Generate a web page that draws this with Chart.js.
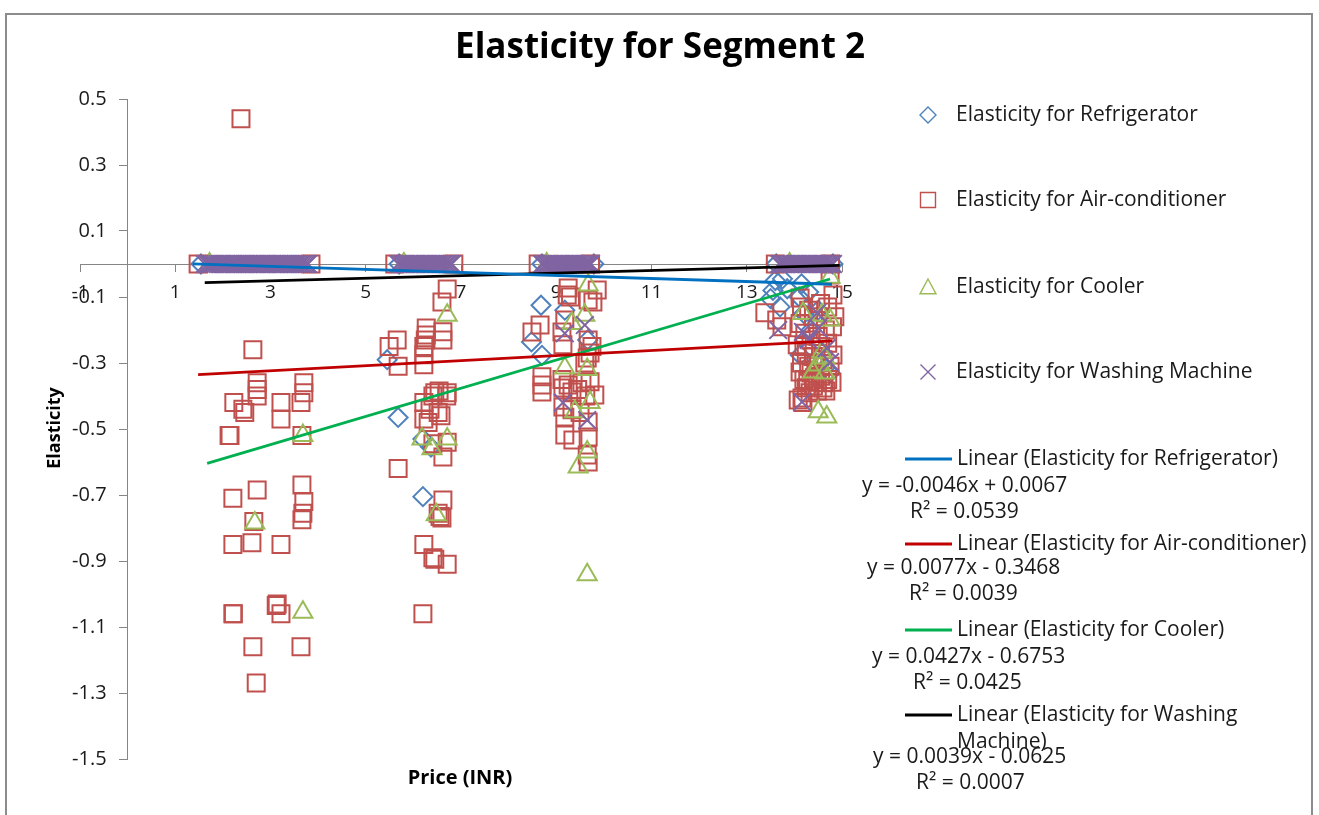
<!DOCTYPE html>
<html>
<head>
<meta charset="utf-8">
<title>Elasticity for Segment 2</title>
<script src="https://cdn.jsdelivr.net/npm/chart.js@4.4.1/dist/chart.umd.min.js"></script>
<style>
  html, body { margin: 0; padding: 0; background: #ffffff; }
  #wrap { position: relative; width: 1319px; height: 815px; }
</style>
</head>
<body>
<div id="wrap"><canvas id="chart"></canvas></div>
<script>
// ---- series names ----
const seriesNames = [
  'Elasticity for Refrigerator',
  'Elasticity for Air-conditioner',
  'Elasticity for Cooler',
  'Elasticity for Washing Machine'
];

// ---- observations [price, elasticity] with non-zero elasticity ----
const fridgePoints = [
  [5.45, -0.29], [5.68, -0.465], [6.20, -0.53], [6.37, -0.555], [6.20, -0.705],
  [8.68, -0.125], [9.18, -0.14], [8.48, -0.236], [8.70, -0.277], [9.66, -0.23],
  [13.60, -0.05], [13.75, -0.045], [13.55, -0.08], [13.85, -0.075], [13.50, -0.105],
  [13.70, -0.13], [14.15, -0.06], [14.30, -0.085], [14.10, -0.10], [14.20, -0.15],
  [14.35, -0.20], [14.12, -0.276], [14.45, -0.30], [14.64, -0.315], [14.75, -0.33],
  [14.50, -0.14]
];

const acPoints = [
  [2.38, 0.44], [2.63, -0.26], [2.72, -0.36], [2.72, -0.38], [2.72, -0.40],
  [2.23, -0.42], [2.42, -0.44], [2.46, -0.45], [2.13, -0.52], [2.15, -0.52],
  [3.22, -0.42], [3.22, -0.47], [3.70, -0.36], [3.70, -0.39], [3.64, -0.42],
  [3.66, -0.52], [2.21, -0.71], [2.72, -0.685], [3.66, -0.67], [3.70, -0.72],
  [3.68, -0.755], [3.66, -0.775], [2.65, -0.78], [2.21, -0.85], [2.61, -0.845],
  [3.22, -0.85], [2.21, -1.06], [2.22, -1.06], [3.12, -1.035], [3.14, -1.03],
  [3.22, -1.06], [2.63, -1.16], [3.64, -1.16], [2.70, -1.27],

  [6.71, -0.076], [6.60, -0.115], [6.27, -0.194], [6.27, -0.215], [6.25, -0.23],
  [6.22, -0.25], [6.22, -0.275], [6.22, -0.305], [6.62, -0.205], [6.62, -0.23],
  [5.66, -0.23], [5.49, -0.25], [5.68, -0.31], [6.71, -0.39], [6.54, -0.385],
  [6.41, -0.40], [6.22, -0.42], [6.35, -0.44], [6.52, -0.45], [6.22, -0.47],
  [6.58, -0.46], [6.31, -0.48], [6.45, -0.39], [6.70, -0.40], [6.41, -0.545],
  [6.71, -0.54], [6.62, -0.585], [5.68, -0.62], [6.62, -0.715], [6.52, -0.755],
  [6.60, -0.77], [6.56, -0.765], [6.22, -0.85], [6.41, -0.89], [6.45, -0.895],
  [6.71, -0.91], [6.20, -1.06],

  [9.25, -0.073], [9.23, -0.094], [9.86, -0.079], [9.67, -0.109], [9.77, -0.115],
  [9.30, -0.10], [9.18, -0.17], [8.66, -0.185], [8.49, -0.206], [9.12, -0.206],
  [9.14, -0.245], [9.67, -0.23], [9.71, -0.27], [9.60, -0.30], [9.75, -0.25],
  [9.65, -0.285], [8.70, -0.342], [8.70, -0.367], [8.70, -0.388], [9.12, -0.35],
  [9.14, -0.376], [9.25, -0.367], [9.33, -0.388], [9.54, -0.36], [9.71, -0.357],
  [9.81, -0.397], [9.45, -0.38], [9.62, -0.40], [9.14, -0.433], [9.33, -0.442],
  [9.18, -0.464], [9.67, -0.479], [9.50, -0.45], [9.18, -0.518], [9.35, -0.533],
  [9.67, -0.524], [9.65, -0.579], [9.67, -0.60],

  [13.38, -0.148], [13.63, -0.17], [13.74, -0.19], [14.12, -0.103], [14.75, -0.033],
  [14.81, -0.094], [14.85, -0.16], [14.12, -0.18], [14.22, -0.21], [14.06, -0.245],
  [14.12, -0.327], [14.48, -0.358], [14.81, -0.276], [14.79, -0.358], [14.60, -0.376],
  [14.16, -0.406], [14.08, -0.412], [14.18, -0.42], [14.15, -0.13], [14.30, -0.14],
  [14.40, -0.16], [14.55, -0.12], [14.70, -0.13], [14.20, -0.25], [14.35, -0.23],
  [14.50, -0.22], [14.65, -0.20], [14.80, -0.19], [14.25, -0.27], [14.40, -0.28],
  [14.55, -0.25], [14.70, -0.24], [14.15, -0.30], [14.30, -0.31], [14.45, -0.30],
  [14.60, -0.29], [14.75, -0.31], [14.20, -0.35], [14.35, -0.33], [14.55, -0.34],
  [14.40, -0.37], [14.25, -0.375], [14.70, -0.35], [14.28, -0.355], [14.42, -0.345],
  [14.62, -0.36], [14.48, -0.385], [14.33, -0.39], [14.66, -0.385]
];

const coolerPoints = [
  [3.68, -0.52], [2.67, -0.785], [3.68, -1.055],
  [6.71, -0.155], [6.18, -0.53], [6.39, -0.56], [6.71, -0.53], [6.48, -0.76],
  [9.67, -0.064], [9.60, -0.155], [9.33, -0.18], [9.18, -0.315], [9.65, -0.32],
  [9.39, -0.448], [9.71, -0.42], [9.65, -0.57], [9.46, -0.615], [9.65, -0.942],
  [14.75, -0.04], [14.18, -0.15], [14.58, -0.155], [14.75, -0.17], [14.58, -0.267],
  [14.64, -0.285], [14.50, -0.306], [14.39, -0.327], [14.64, -0.33], [14.50, -0.448],
  [14.68, -0.464]
];

const washerPoints = [
  [9.18, -0.21], [9.60, -0.185], [9.14, -0.42], [9.65, -0.473],
  [13.66, -0.20], [14.18, -0.206], [14.48, -0.148], [14.50, -0.194], [14.16, -0.418],
  [14.68, -0.255], [14.75, -0.297], [14.30, -0.23]
];

// ---- prices at which elasticity is zero ----
const fridgeZeroPrice = [1.54, 5.70, 8.70, 9.79, 13.62, 14.81];
const acZeroPrice = [1.48, 3.85, 5.61, 6.85, 8.62, 9.72, 13.60, 14.76];
const coolerZeroPrice = [1.72, 5.80, 8.80, 13.90];
const washerZeroPrice = [
  1.62, 1.67, 1.71, 1.76, 1.80, 1.85, 1.90, 1.94, 1.99, 2.04, 2.08, 2.13, 2.17, 2.22,
  2.27, 2.31, 2.36, 2.41, 2.45, 2.50, 2.54, 2.59, 2.64, 2.68, 2.73, 2.78, 2.82, 2.87,
  2.91, 2.96, 3.01, 3.05, 3.10, 3.15, 3.19, 3.24, 3.28, 3.33, 3.38, 3.42, 3.47, 3.52,
  3.56, 3.61, 3.65, 3.70, 3.75, 3.79,
  5.68, 5.72, 5.77, 5.81, 5.86, 5.91, 5.95, 6.00, 6.04, 6.09, 6.14, 6.18, 6.23, 6.27,
  6.32, 6.37, 6.41, 6.46, 6.50, 6.55, 6.60, 6.64, 6.69, 6.73, 6.78, 6.81,
  8.70, 8.74, 8.79, 8.83, 8.88, 8.93, 8.97, 9.02, 9.06, 9.11, 9.16, 9.20, 9.25, 9.29,
  9.34, 9.39, 9.43, 9.48, 9.52, 9.57, 9.62, 9.66, 9.70, 9.73,
  13.68, 13.72, 13.77, 13.81, 13.86, 13.91, 13.95, 14.00, 14.04, 14.09, 14.14, 14.18,
  14.23, 14.27, 14.32, 14.37, 14.41, 14.46, 14.50, 14.55, 14.60, 14.64, 14.69, 14.73,
  14.78, 14.81
];

// ---- linear trend lines (Excel fits) ----
const trendSlope = [-0.0046, 0.0077, 0.0427, 0.0039];
const trendIntercept = [0.0067, -0.3468, -0.6753, -0.0625];
const trendR2 = [0.0539, 0.0039, 0.0425, 0.0007];
const trendFrom = [1.37, 1.48, 1.67, 1.62];
const trendTo = [14.79, 14.80, 14.75, 14.95];

// ---- axis ticks ----
const xTickStep = 2;
const yTickStep = 0.2;

const markerColors = ['#4F81BD', '#C0504D', '#9BBB59', '#8064A2'];
const trendColors = ['#0070C0', '#C00000', '#00B050', '#000000'];
const markerStyles = ['rectRot', 'rect', 'triangle', 'crossRot'];
const markerRadius = [9.5, 12, 11, 12.5];

const FONT = '"Open Sans", "Noto Sans", "DejaVu Sans", sans-serif';

const pointGroups = [
  [fridgePoints, fridgeZeroPrice],
  [acPoints, acZeroPrice],
  [coolerPoints, coolerZeroPrice],
  [washerPoints, washerZeroPrice]
];

const datasets = [];
// trend lines sit above every marker
trendSlope.forEach((m, i) => {
  const b = trendIntercept[i];
  datasets.push({
    label: 'Linear (' + seriesNames[i] + ')',
    data: [
      { x: trendFrom[i], y: m * trendFrom[i] + b },
      { x: trendTo[i], y: m * trendTo[i] + b }
    ],
    showLine: true,
    borderColor: trendColors[i],
    borderWidth: 2.8,
    pointRadius: 0,
    pointHoverRadius: 0,
    fill: false,
    order: 0,
    clip: false
  });
});
// scatter series, washing machine drawn last (on top)
pointGroups.forEach(([pts, zeros], i) => {
  const data = zeros.map(p => ({ x: p, y: 0 })).concat(pts.map(p => ({ x: p[0], y: p[1] })));
  datasets.push({
    label: seriesNames[i],
    data,
    showLine: false,
    pointStyle: markerStyles[i],
    pointRadius: markerRadius[i],
    pointHoverRadius: markerRadius[i],
    pointBorderColor: markerColors[i],
    pointBackgroundColor: 'rgba(0,0,0,0)',
    pointBorderWidth: 2,
    pointHoverBorderWidth: 2,
    order: 4 - i,
    clip: false
  });
});

function fmtCoef(v) { return Math.abs(v).toFixed(4); }
function equationText(i) {
  const m = trendSlope[i], b = trendIntercept[i];
  return 'y = ' + (m < 0 ? '-' : '') + fmtCoef(m) + 'x ' + (b < 0 ? '- ' : '+ ') + fmtCoef(b);
}

function drawMarker(ctx, style, x, y, r, color) {
  ctx.save();
  ctx.strokeStyle = color;
  ctx.lineWidth = 1.4;
  ctx.beginPath();
  if (style === 'rectRot') {
    ctx.moveTo(x, y - r); ctx.lineTo(x + r, y); ctx.lineTo(x, y + r); ctx.lineTo(x - r, y); ctx.closePath();
  } else if (style === 'rect') {
    ctx.rect(x - r, y - r, 2 * r, 2 * r);
  } else if (style === 'triangle') {
    ctx.moveTo(x, y - r); ctx.lineTo(x + r, y + r * 0.85); ctx.lineTo(x - r, y + r * 0.85); ctx.closePath();
  } else {
    ctx.moveTo(x - r, y - r); ctx.lineTo(x + r, y + r);
    ctx.moveTo(x + r, y - r); ctx.lineTo(x - r, y + r);
  }
  ctx.stroke();
  ctx.restore();
}

const decorations = {
  id: 'decorations',
  afterDraw(chart) {
    const ctx = chart.ctx;
    const xs = chart.scales.x, ys = chart.scales.y;
    ctx.save();

    // outer frame
    ctx.strokeStyle = '#8c8c8c';
    ctx.lineWidth = 2;
    ctx.beginPath();
    ctx.moveTo(6, 815); ctx.lineTo(6, 14); ctx.lineTo(1312, 14); ctx.lineTo(1312, 815);
    ctx.stroke();

    // y tick labels, left of the crossing axis
    const axisX = xs.getPixelForValue(0);
    ctx.fillStyle = '#1a1a1a';
    ctx.font = '20px ' + FONT;
    ctx.textAlign = 'right';
    ctx.textBaseline = 'middle';
    ys.ticks.forEach(t => {
      ctx.fillText(t.value.toFixed(1), axisX - 21, ys.getPixelForValue(t.value));
    });

    // chart title
    ctx.fillStyle = '#000';
    ctx.textAlign = 'center';
    ctx.font = 'bold 35px ' + FONT;
    ctx.fillText('Elasticity for Segment 2', 660, 48);

    // axis titles
    ctx.font = 'bold 20px ' + FONT;
    ctx.fillText('Price (INR)', 460, 778);
    ctx.save();
    ctx.translate(55, 428);
    ctx.rotate(-Math.PI / 2);
    ctx.font = 'bold 18px ' + FONT;
    ctx.fillText('Elasticity', 0, 0);
    ctx.restore();

    // legend: marker entries
    ctx.textAlign = 'left';
    ctx.fillStyle = '#1a1a1a';
    ctx.font = '21px ' + FONT;
    const legendY = [115, 200, 287, 372];
    const legendR = [8, 7.5, 8, 7.5];
    seriesNames.forEach((name, i) => {
      drawMarker(ctx, markerStyles[i], 928, legendY[i], legendR[i], markerColors[i]);
      ctx.fillText(name, 956, legendY[i]);
    });

    // legend: trend entries with equations
    const lineY = [459, 544, 630, 715];
    const eqX = [862, 867, 872, 873];
    const eqY = [486, 568, 657, 757];
    const r2X = [910, 909, 913, 916];
    const r2Y = [512, 594, 683, 783];
    trendSlope.forEach((m, i) => {
      ctx.strokeStyle = trendColors[i];
      ctx.lineWidth = 2.8;
      ctx.beginPath();
      ctx.moveTo(905, lineY[i]); ctx.lineTo(952, lineY[i]);
      ctx.stroke();
      ctx.fillStyle = '#1a1a1a';
      const label = 'Linear (' + seriesNames[i] + ')';
      if (i === 3) {
        ctx.fillText('Linear (Elasticity for Washing', 957, lineY[i]);
        ctx.fillText('Machine)', 957, lineY[i] + 27);
      } else {
        ctx.fillText(label, 957, lineY[i]);
      }
      ctx.fillText(equationText(i), eqX[i], eqY[i]);
      ctx.fillText('R\u00B2 = ' + trendR2[i].toFixed(4), r2X[i], r2Y[i]);
    });

    ctx.restore();
  }
};

const axisGrey = '#868686';

new Chart(document.getElementById('chart'), {
  type: 'scatter',
  data: { datasets },
  options: {
    responsive: true,
    maintainAspectRatio: false,
    animation: false,
    events: [],
    layout: { padding: { left: 80, right: 477, top: 99, bottom: 56 } },
    plugins: {
      legend: { display: false },
      tooltip: { enabled: false },
      title: { display: false }
    },
    scales: {
      x: {
        type: 'linear',
        position: { y: 0 },
        min: -1,
        max: 15,
        ticks: {
          stepSize: xTickStep,
          autoSkip: false,
          maxRotation: 0,
          padding: 10,
          color: '#1a1a1a',
          font: { family: FONT, size: 19 }
        },
        grid: { drawOnChartArea: false, drawTicks: true, tickLength: 7, color: axisGrey },
        border: { color: axisGrey, width: 1 }
      },
      y: {
        type: 'linear',
        position: { x: 0 },
        min: -1.5,
        max: 0.5,
        ticks: { stepSize: yTickStep, display: false },
        grid: { drawOnChartArea: false, drawTicks: true, tickLength: 8, color: axisGrey },
        border: { color: axisGrey, width: 1 }
      }
    }
  },
  plugins: [decorations]
});
</script>
</body>
</html>
